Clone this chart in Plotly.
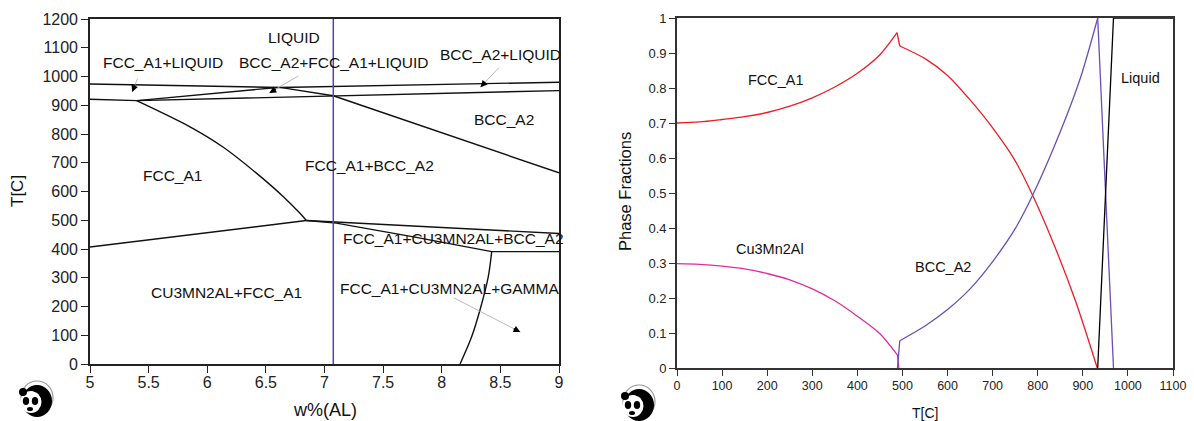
import math
import plotly.graph_objects as go

W, H = 1194, 421
FONT = "Liberation Sans"

# ---------------- Cu-Mn-Al isopleth: w%(AL) vs T[C] ----------------
liquidus_al = [5.0, 6.62, 9.0]
liquidus_t = [974, 962, 980]

solidus_al = [5.0, 5.40, 9.0]
solidus_t = [921, 916, 951]

three_phase_left_al = [5.40, 6.60]
three_phase_left_t = [916, 962]

three_phase_right_al = [6.62, 7.075]
three_phase_right_t = [962, 933]

bcc_solvus_al = [7.075, 9.0]
bcc_solvus_t = [933, 665]

fcc_solvus_al = [5.398, 5.853, 6.137, 6.422, 6.649, 6.791, 6.845]
fcc_solvus_t = [916, 825, 754, 663, 582, 524, 499]

eutectoid_left_al = [5.0, 6.845]
eutectoid_left_t = [407, 499]

upper_tie_al = [6.845, 9.0]
upper_tie_t = [499, 454]

lower_tie_al = [6.845, 7.10, 7.76, 8.426, 9.0]
lower_tie_t = [499, 490, 442, 391, 391]

gamma_al = [8.426, 8.397, 8.326, 8.255, 8.156]
gamma_t = [391, 304, 188, 95, 0]

section_al = [7.075, 7.075]
section_t = [0, 1200]

diagram_labels = [
    ("LIQUID", 6.74, 1134),
    ("FCC_A1+LIQUID", 5.62, 1047),
    ("BCC_A2+FCC_A1+LIQUID", 7.08, 1050),
    ("BCC_A2+LIQUID", 8.505, 1075),
    ("BCC_A2", 8.53, 849),
    ("FCC_A1+BCC_A2", 7.38, 689),
    ("FCC_A1", 5.70, 654),
    ("FCC_A1+CU3MN2AL+BCC_A2", 8.10, 435),
    ("FCC_A1+CU3MN2AL+GAMMA", 8.07, 264),
    ("CU3MN2AL+FCC_A1", 6.16, 247),
]

# pointer arrows: (tail_al, tail_t, head_al, head_t)
diagram_pointers = [
    (5.41, 998, 5.36, 946),
    (6.79, 1005, 6.53, 943),
    (8.50, 1036, 8.33, 963),
    (8.09, 233, 8.67, 111),
]

# ---------------- Phase fractions at 7.075 w%(AL) ----------------
# each phase is split where its curve has a corner
fcc_low_temp = [0, 50, 100, 150, 200, 250, 300, 350, 400, 450, 488]
fcc_low_frac = [0.700, 0.703, 0.710, 0.718, 0.730, 0.748, 0.772, 0.803,
                0.842, 0.895, 0.958]
fcc_step_temp = [488, 494]
fcc_step_frac = [0.958, 0.920]
fcc_high_temp = [494, 550, 600, 650, 700, 750, 790, 840, 885, 932]
fcc_high_frac = [0.920, 0.884, 0.836, 0.766, 0.686, 0.592, 0.490,
                 0.340, 0.187, 0.0]

cu3mn2al_temp = [0, 50, 100, 150, 200, 250, 300, 350, 400, 450, 489]
cu3mn2al_frac = [0.298, 0.296, 0.291, 0.283, 0.270, 0.252, 0.226, 0.192,
                 0.148, 0.098, 0.037]
cu3mn2al_end_temp = [489, 492]
cu3mn2al_end_frac = [0.037, 0.0]

bcc_start_temp = [489, 494]
bcc_start_frac = [0.0, 0.078]
bcc_rise_temp = [494, 550, 600, 650, 700, 750, 790, 850, 895, 933]
bcc_rise_frac = [0.078, 0.120, 0.167, 0.226, 0.304, 0.398, 0.497, 0.675,
                 0.830, 1.0]
bcc_melt_temp = [933, 968]
bcc_melt_frac = [1.0, 0.0]

liquid_temp = [933, 968, 1100]
liquid_frac = [0.0, 1.0, 1.0]

fraction_labels = [
    ("FCC_A1", 219, 0.823),
    ("Cu3Mn2Al", 206, 0.340),
    ("BCC_A2", 590, 0.289),
    ("Liquid", 1028, 0.830),
]

# ---------------- layout geometry (pixels) ----------------
L_X0, L_X1, L_Y0, L_Y1 = 90, 559, 19, 364
R_X0, R_X1, R_Y0, R_Y1 = 677, 1173, 18, 368


def px(x):
    return x / W


def py(y):
    return 1 - y / H


fig = go.Figure()

straight_boundaries = [
    (liquidus_al, liquidus_t),
    (solidus_al, solidus_t),
    (three_phase_left_al, three_phase_left_t),
    (three_phase_right_al, three_phase_right_t),
    (bcc_solvus_al, bcc_solvus_t),
    (eutectoid_left_al, eutectoid_left_t),
    (upper_tie_al, upper_tie_t),
    (lower_tie_al, lower_tie_t),
]
curved_boundaries = [
    (fcc_solvus_al, fcc_solvus_t),
    (gamma_al, gamma_t),
]
for xs, ts in straight_boundaries:
    fig.add_trace(go.Scatter(x=xs, y=ts, mode="lines", xaxis="x", yaxis="y",
                             line=dict(color="#111111", width=1.4),
                             hoverinfo="skip", showlegend=False))
for xs, ts in curved_boundaries:
    fig.add_trace(go.Scatter(x=xs, y=ts, mode="lines", xaxis="x", yaxis="y",
                             line=dict(color="#111111", width=1.4,
                                       shape="spline", smoothing=0.8),
                             hoverinfo="skip", showlegend=False))

fig.add_trace(go.Scatter(x=section_al, y=section_t, mode="lines",
                         xaxis="x", yaxis="y",
                         line=dict(color="#5b3fb5", width=1.5),
                         hoverinfo="skip", showlegend=False))

RED, PINK, VIOLET = "#ee1c25", "#e02c9c", "#6a4fb6"
fraction_series = [
    (fcc_low_temp, fcc_low_frac, RED, "spline"),
    (fcc_step_temp, fcc_step_frac, RED, "linear"),
    (fcc_high_temp, fcc_high_frac, RED, "spline"),
    (cu3mn2al_temp, cu3mn2al_frac, PINK, "spline"),
    (cu3mn2al_end_temp, cu3mn2al_end_frac, PINK, "linear"),
    (bcc_start_temp, bcc_start_frac, VIOLET, "linear"),
    (bcc_rise_temp, bcc_rise_frac, VIOLET, "spline"),
    (bcc_melt_temp, bcc_melt_frac, VIOLET, "linear"),
    (liquid_temp, liquid_frac, "#000000", "linear"),
]
for ts, fs, col, shape in fraction_series:
    fig.add_trace(go.Scatter(x=ts, y=fs, mode="lines", xaxis="x2", yaxis="y2",
                             line=dict(color=col, width=1.3, shape=shape,
                                       smoothing=0.8),
                             hoverinfo="skip", showlegend=False))

annotations = []
for text, xa, ta in diagram_labels:
    annotations.append(dict(text=text, x=xa, y=ta, xref="x", yref="y",
                            showarrow=False, xanchor="center",
                            yanchor="middle",
                            font=dict(family=FONT, size=15.5, color="#111")))

# px per data unit on the diagram, used to orient the arrow heads
sx = (L_X1 - L_X0) / 4.0
sy = (L_Y1 - L_Y0) / 1200.0
for tx, tt, hx, ht in diagram_pointers:
    annotations.append(dict(text="", x=hx, y=ht, ax=tx, ay=tt,
                            xref="x", yref="y", axref="x", ayref="y",
                            showarrow=True, arrowhead=0, arrowwidth=0.8,
                            arrowcolor="#a8a8a8"))
    dx = (tx - hx) * sx
    dy = -(tt - ht) * sy
    n = math.hypot(dx, dy)
    annotations.append(dict(text="", x=hx, y=ht, xref="x", yref="y",
                            ax=dx / n * 9, ay=dy / n * 9,
                            showarrow=True, arrowhead=2, arrowsize=0.9,
                            arrowwidth=1.5, arrowcolor="#000000"))

for text, ta, fa in fraction_labels:
    annotations.append(dict(text=text, x=ta, y=fa, xref="x2", yref="y2",
                            showarrow=False, xanchor="center",
                            yanchor="middle",
                            font=dict(family=FONT, size=14.5, color="#111")))

# axis titles
title_common = dict(xref="paper", yref="paper", showarrow=False,
                    xanchor="center", yanchor="middle")
annotations += [
    dict(text="T[C]", x=px(18), y=py(191), textangle=-90,
         font=dict(family=FONT, size=17, color="#111"), **title_common),
    dict(text="w%(AL)", x=px(325), y=py(410),
         font=dict(family=FONT, size=18, color="#111"), **title_common),
    dict(text="Phase Fractions", x=px(625), y=py(192), textangle=-90,
         font=dict(family=FONT, size=16.5, color="#111"), **title_common),
    dict(text="T[C]", x=px(925), y=py(413),
         font=dict(family=FONT, size=14, color="#111"), **title_common),
]

# small panda logos under each panel
shapes = []


def oval(cx, cy, rx, ry, fill, line_col=None, lw=0):
    return dict(type="circle", xref="paper", yref="paper",
                x0=px(cx - rx), x1=px(cx + rx), y0=py(cy + ry), y1=py(cy - ry),
                fillcolor=fill, line=dict(color=line_col or fill, width=lw),
                layer="above")


def panda(cx, cy):
    return [
        dict(type="circle", xref="paper", yref="paper",
             x0=px(cx - 13), x1=px(cx + 19), y0=py(cy + 14), y1=py(cy - 19),
             line=dict(color="#9a9a9a", width=1.2), fillcolor="rgba(0,0,0,0)"),
        oval(cx + 3, cy + 1, 15, 16, "#000000"),
        oval(cx - 3, cy + 2, 10.5, 11, "#ffffff"),
        oval(cx - 11, cy - 8, 4, 4, "#000000"),
        oval(cx + 3, cy - 11, 4, 3.5, "#000000"),
        oval(cx - 8, cy + 1, 3.2, 4, "#000000"),
        oval(cx + 1, cy + 1, 3.2, 4, "#000000"),
        oval(cx - 4, cy + 9, 3, 2, "#000000"),
    ]


shapes += panda(34, 400)
shapes += panda(636, 404)

axis_common = dict(showgrid=False, zeroline=False, showline=True,
                   mirror=True, ticks="outside", automargin=False)

fig.update_layout(
    width=W, height=H,
    margin=dict(l=0, r=0, t=0, b=0, pad=0, autoexpand=False),
    paper_bgcolor="white", plot_bgcolor="white",
    showlegend=False,
    xaxis=dict(domain=[px(L_X0), px(L_X1)], range=[5, 9],
               tickvals=[5, 5.5, 6, 6.5, 7, 7.5, 8, 8.5, 9],
               ticktext=["5", "5.5", "6", "6.5", "7", "7.5", "8", "8.5", "9"],
               linecolor="#222", linewidth=1.6, tickcolor="#222",
               ticklen=7, ticklabelstandoff=-4,
               tickfont=dict(family=FONT, size=16, color="#222"),
               anchor="y", **axis_common),
    yaxis=dict(domain=[py(L_Y1), py(L_Y0)], range=[0, 1200],
               tickvals=list(range(0, 1201, 100)),
               linecolor="#222", linewidth=1.6, tickcolor="#222",
               ticklen=7, tickfont=dict(family=FONT, size=16, color="#222"),
               anchor="x", **axis_common),
    xaxis2=dict(domain=[px(R_X0), px(R_X1)], range=[0, 1100],
                tickvals=list(range(0, 1101, 100)),
                linecolor="#333", linewidth=1.8, tickcolor="#333",
                ticklen=6, ticklabelstandoff=-1,
                tickfont=dict(family=FONT, size=12.5, color="#222"),
                anchor="y2", **axis_common),
    yaxis2=dict(domain=[py(R_Y1), py(R_Y0)], range=[0, 1],
                tickvals=[i / 10 for i in range(11)],
                ticktext=["0"] + [f"0.{i}" for i in range(1, 10)] + ["1"],
                linecolor="#333", linewidth=1.8, tickcolor="#333",
                ticklen=6, tickfont=dict(family=FONT, size=13, color="#222"),
                anchor="x2", **axis_common),
    annotations=annotations,
    shapes=shapes,
)

fig.write_html("out.html")
